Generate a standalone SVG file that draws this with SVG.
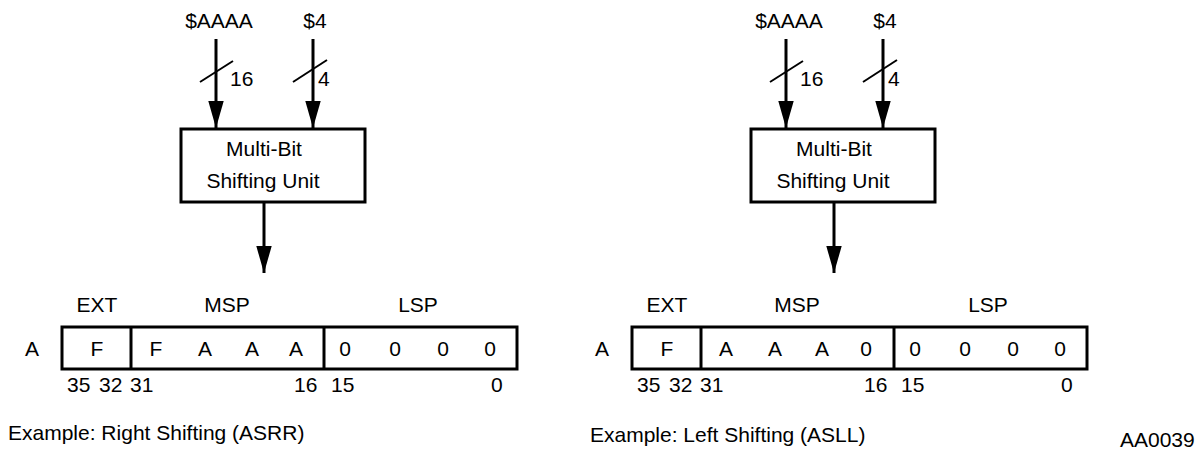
<svg xmlns="http://www.w3.org/2000/svg" width="1200" height="451" viewBox="0 0 1200 451">
  <style>
    text { font-family: "Liberation Sans", Arial, sans-serif; font-size: 21px; fill: #000; }
    .m { text-anchor: middle; }
    .box { fill: #fff; stroke: #000; stroke-width: 3; }
    .wire { stroke: #000; stroke-width: 3; fill: none; }
    .slash { stroke: #000; stroke-width: 2; fill: none; }
  </style>
  <defs>
    <marker id="ah" viewBox="0 0 28 16" markerWidth="27" markerHeight="16" refX="28" refY="8" orient="auto" markerUnits="userSpaceOnUse">
      <path d="M0,0 L28,8 L0,16 Z" fill="#000"/>
    </marker>
    <g id="shifter-tpl">
      <rect class="box" x="181" y="129" width="184" height="73"/>
      <text class="m" x="264" y="156">Multi-Bit</text>
      <text class="m" x="263" y="188">Shifting Unit</text>
    </g>
  </defs>

  <!-- LEFT EXAMPLE -->
  <g id="left-example">
    <g id="left-in-aaaa"><text class="m" x="219" y="28">$AAAA</text></g>
    <g id="left-in-4"><text class="m" x="315" y="28">$4</text></g>
    <g id="left-shifter"><use href="#shifter-tpl"/></g>
    <g id="left-register">
      <text class="m" x="32" y="356">A</text>
      <text class="m" x="97" y="312">EXT</text>
      <text class="m" x="227" y="312">MSP</text>
      <text class="m" x="418" y="312">LSP</text>
      <rect class="box" x="62" y="327" width="455" height="42"/>
      <line class="wire" x1="131" y1="327" x2="131" y2="369"/>
      <line class="wire" x1="324" y1="327" x2="324" y2="369"/>
      <text class="m" x="97" y="356">F</text>
      <text class="m" x="156" y="356">F</text>
      <text class="m" x="205" y="356">A</text>
      <text class="m" x="252" y="356">A</text>
      <text class="m" x="296" y="356">A</text>
      <text class="m" x="345" y="356">0</text>
      <text class="m" x="395" y="356">0</text>
      <text class="m" x="443" y="356">0</text>
      <text class="m" x="490" y="356">0</text>
      <text x="67" y="392">35</text>
      <text x="99" y="392">32</text>
      <text x="130" y="392">31</text>
      <text x="294" y="392">16</text>
      <text x="331" y="392">15</text>
      <text x="491" y="392">0</text>
    </g>
  </g>

  <!-- RIGHT EXAMPLE -->
  <g id="right-example">
    <g id="right-in-aaaa"><text class="m" x="789" y="28">$AAAA</text></g>
    <g id="right-in-4"><text class="m" x="885" y="28">$4</text></g>
    <g id="right-shifter" transform="translate(570,0)"><use href="#shifter-tpl"/></g>
    <g id="right-register">
      <text class="m" x="602" y="356">A</text>
      <text class="m" x="667" y="312">EXT</text>
      <text class="m" x="797" y="312">MSP</text>
      <text class="m" x="988" y="312">LSP</text>
      <rect class="box" x="632" y="327" width="455" height="42"/>
      <line class="wire" x1="701" y1="327" x2="701" y2="369"/>
      <line class="wire" x1="894" y1="327" x2="894" y2="369"/>
      <text class="m" x="667" y="356">F</text>
      <text class="m" x="726" y="356">A</text>
      <text class="m" x="775" y="356">A</text>
      <text class="m" x="822" y="356">A</text>
      <text class="m" x="866" y="356">0</text>
      <text class="m" x="915" y="356">0</text>
      <text class="m" x="965" y="356">0</text>
      <text class="m" x="1013" y="356">0</text>
      <text class="m" x="1060" y="356">0</text>
      <text x="637" y="392">35</text>
      <text x="669" y="392">32</text>
      <text x="700" y="392">31</text>
      <text x="864" y="392">16</text>
      <text x="901" y="392">15</text>
      <text x="1061" y="392">0</text>
    </g>
  </g>

  <!-- CONNECTORS -->
  <g id="connectors">
    <line class="wire" x1="216" y1="39" x2="216" y2="128" marker-end="url(#ah)"/>
    <line class="slash" x1="200" y1="82" x2="233" y2="61"/>
    <text x="230" y="86">16</text>
    <line class="wire" x1="313" y1="39" x2="313" y2="128" marker-end="url(#ah)"/>
    <line class="slash" x1="293" y1="82" x2="327" y2="60"/>
    <text x="318" y="86">4</text>
    <line class="wire" x1="264" y1="202" x2="264" y2="273" marker-end="url(#ah)"/>

    <line class="wire" x1="786" y1="39" x2="786" y2="128" marker-end="url(#ah)"/>
    <line class="slash" x1="770" y1="82" x2="803" y2="61"/>
    <text x="800" y="86">16</text>
    <line class="wire" x1="883" y1="39" x2="883" y2="128" marker-end="url(#ah)"/>
    <line class="slash" x1="863" y1="82" x2="897" y2="60"/>
    <text x="888" y="86">4</text>
    <line class="wire" x1="834" y1="202" x2="834" y2="273" marker-end="url(#ah)"/>
  </g>

  <g id="captions">
    <text x="8" y="440">Example: Right Shifting (ASRR)</text>
    <text x="590" y="442">Example: Left Shifting (ASLL)</text>
    <text x="1120" y="447">AA0039</text>
  </g>
</svg>
